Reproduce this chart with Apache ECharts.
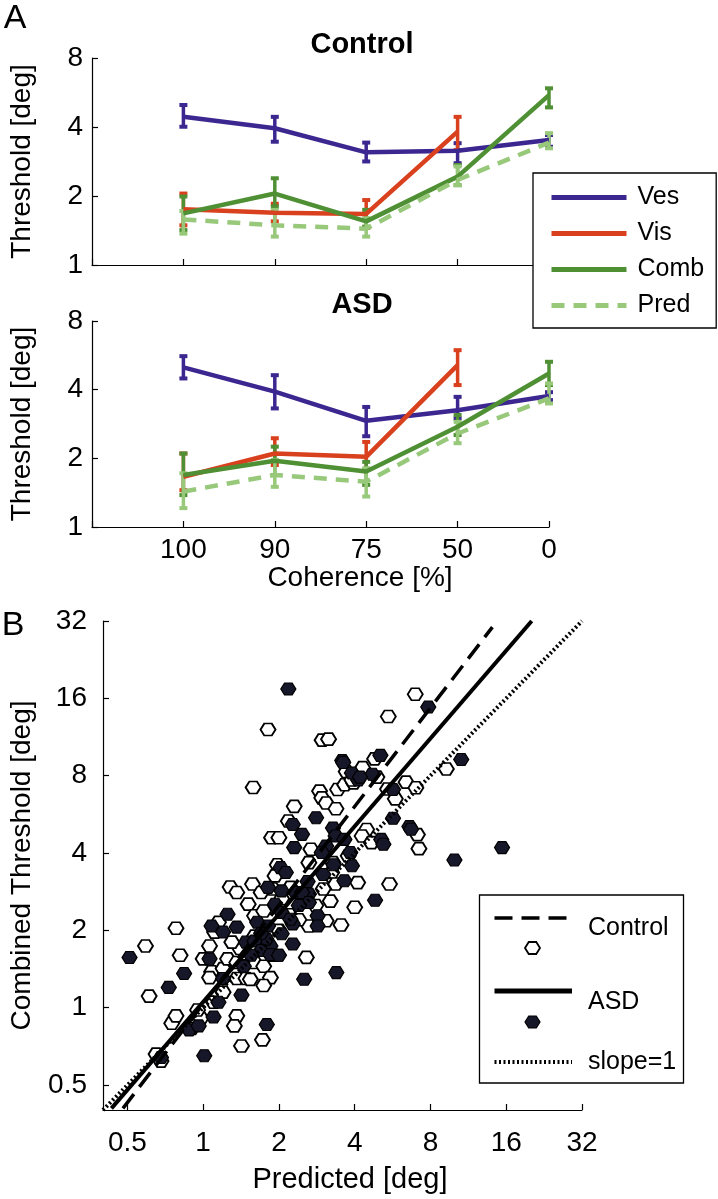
<!DOCTYPE html>
<html>
<head>
<meta charset="utf-8">
<script src="https://cdn.jsdelivr.net/npm/echarts@6/dist/echarts.min.js"></script>
<style>
html,body{margin:0;padding:0;background:#fff;}
#chart{width:718px;height:1199px;}
</style>
</head>
<body>
<div id="chart"></div>
<script>
// ---------- Panel A data ----------
const coherenceLabels = ['100', '90', '75', '50', '0'];
const seriesNames = ['Ves', 'Vis', 'Comb', 'Pred'];

// Control
const ctrlVes = [4.43, 3.95, 3.10, 3.15, 3.51];
const ctrlVesLo = [4.01, 3.45, 2.83, 2.78, 3.28];
const ctrlVesHi = [4.99, 4.43, 3.42, 3.40, 3.69];
const ctrlVis = [1.75, 1.69, 1.67, 3.82];
const ctrlVisLo = [1.49, 1.55, 1.45, 3.17];
const ctrlVisHi = [2.05, 1.85, 1.92, 4.43];
const ctrlComb = [1.68, 2.05, 1.55, 2.43, 5.51];
const ctrlCombLo = [1.42, 1.80, 1.47, 2.23, 4.87];
const ctrlCombHi = [1.99, 2.39, 1.74, 2.73, 5.90];
const ctrlPred = [1.58, 1.49, 1.44, 2.35, 3.42];
const ctrlPredLo = [1.37, 1.33, 1.33, 2.23, 3.23];
const ctrlPredHi = [1.72, 1.74, 1.60, 2.69, 3.76];

// ASD
const asdVes = [5.01, 3.92, 2.92, 3.25, 3.75];
const asdVesLo = [4.48, 3.31, 2.50, 2.99, 3.60];
const asdVesHi = [5.61, 4.63, 3.36, 3.72, 3.90];
const asdVis = [1.66, 2.10, 2.03, 5.12];
const asdVisLo = [1.45, 1.87, 1.78, 4.19];
const asdVisHi = [2.10, 2.45, 2.36, 5.96];
const asdComb = [1.69, 1.95, 1.75, 2.75, 4.71];
const asdCombLo = [1.38, 1.69, 1.53, 2.53, 4.19];
const asdCombHi = [2.10, 2.25, 1.93, 3.10, 5.30];
const asdPred = [1.43, 1.69, 1.58, 2.57, 3.66];
const asdPredLo = [1.21, 1.50, 1.36, 2.33, 3.48];
const asdPredHi = [1.72, 1.97, 1.81, 2.89, 4.26];

const thresholdTicks = [1, 2, 4, 8];

// ---------- Panel B data ----------
const scatterTicks = [0.5, 1, 2, 4, 8, 16, 32];
const controlPoints = [
  [1.81,12.1],[6.96,16.6],[5.44,13.6],[2.97,11.0],[3.15,11.1],[4.8,9.3],[9.25,8.5],[1.58,7.2],
  [6.4,7.55],[7.0,7.18],[5.4,7.1],[5.8,6.5],[2.9,6.97],[2.96,6.56],[3.08,6.26],[3.37,5.95],
  [2.3,6.08],[3.42,7.07],[3.65,7.38],[3.96,7.5],[2.18,5.33],[1.87,4.59],[2.0,4.59],[7.1,4.72],
  [7.2,4.16],[4.46,4.94],[4.28,4.66],[4.66,4.39],[3.77,3.9],[3.28,3.67],[3.24,3.36],[3.36,3.03],
  [4.11,3.07],[2.68,4.14],[2.63,3.67],[1.97,3.6],[1.93,3.26],[5.5,3.03],[1.28,2.95],[1.57,3.03],
  [1.7,2.81],[4.0,2.46],[3.53,2.1],[3.08,2.18],[2.63,2.08],[2.57,1.57],[1.72,0.75],[1.42,0.71],
  [1.36,0.93],[0.75,0.87],[0.78,0.93],[0.9,0.83],[0.98,0.91],[0.68,0.62],[0.65,0.66],[0.61,1.11],
  [0.59,1.74],[0.81,1.6],[0.78,2.04],[1.0,1.55],[1.06,1.74],[1.11,1.97],[1.15,2.15],[1.08,1.38],
  [1.06,1.31],[1.2,1.42],[1.25,1.55],[1.36,1.3],[1.36,1.5],[1.48,1.3],[1.48,1.62],[1.6,1.5],
  [1.74,1.45],[1.85,1.31],[1.74,1.22],[1.54,1.29],[1.36,2.81],[1.51,2.53],[1.6,2.28],[1.74,2.38],
  [1.89,2.9],[2.05,2.66],[2.22,2.94],[2.47,2.73],[3.7,8.3],[4.3,8.6],[4.9,7.9],[3.9,7.7],
  [1.33,0.85],[1.1,1.05],[0.95,0.98],[1.4,1.7],[1.9,1.6],[2.2,2.3],[2.4,2.2],[2.8,2.5],
  [3.0,2.9],[3.2,2.6],[1.3,1.8],[1.2,1.15],[1.6,1.9],[2.0,2.0]
];
const asdPoints = [
  [2.18,17.4],[7.84,14.8],[3.57,9.16],[5.06,9.6],[10.6,9.25],[4.13,7.7],[4.7,8.1],[5.68,7.07],
  [2.81,5.49],[5.68,5.46],[2.27,5.17],[2.47,4.73],[2.3,4.2],[6.6,5.07],[6.7,4.95],[15.4,4.2],
  [9.96,3.76],[5.1,4.52],[5.2,4.33],[3.28,5.01],[3.36,4.66],[3.08,4.26],[2.96,4.02],[3.64,4.52],
  [3.84,4.02],[3.9,3.57],[3.64,3.12],[2.03,3.51],[2.13,3.36],[1.81,2.94],[2.05,2.85],[2.33,2.81],
  [2.63,2.77],[4.82,2.62],[2.85,2.28],[2.85,2.08],[2.27,2.12],[2.27,1.77],[2.05,1.94],[1.99,1.6],
  [1.85,1.74],[1.78,1.85],[2.52,1.29],[3.38,1.37],[1.79,0.86],[1.01,0.65],[1.1,0.92],[1.42,1.12],
  [0.88,0.82],[0.96,0.85],[0.68,0.64],[0.73,1.2],[0.84,1.36],[0.51,1.57],[1.08,2.08],[1.06,1.55],
  [1.2,1.97],[1.25,2.31],[1.36,2.06],[1.48,1.8],[1.6,1.82],[1.7,1.67],[1.85,1.61],[2.0,1.6],
  [1.64,2.15],[1.81,2.08],[1.93,2.53],[2.05,2.35],[2.22,2.21],[2.47,2.81],[2.63,2.57],[3.9,8.2],
  [4.2,7.9],[3.6,9.0],[1.55,1.6],[1.45,1.45],[1.7,1.95],[2.4,2.5],[3.0,3.3],[3.3,3.6],
  [2.6,3.1],[1.2,1.3],[1.15,1.05]
];
const controlFit = [[0.48, 0.406], [14.1, 30.3]];
const asdFit = [[0.432, 0.406], [20.2, 32]];
const unityLine = [[0.4, 0.4], [32, 32]];
const scatterMin = 0.4;
const scatterMax = 32;

// ---------- helpers ----------
const L2 = Math.log2;
const COLORS = {Ves: '#3c2690', Vis: '#d9401e', Comb: '#4f9034', Pred: '#98c97b'};
const FONT = '"Liberation Sans", Arial, Helvetica, sans-serif';
const HEX = 'path://M0,5L2.5,0L7.5,0L10,5L7.5,10L2.5,10Z';

function lineData(vals) { return vals.map((v, i) => [i + 1, L2(v)]); }
function errData(lo, hi) { return lo.map((l, i) => [i + 1, L2(l), L2(hi[i])]); }
function fmtPow(v) { const p = Math.pow(2, v); return String(Math.round(p * 1000) / 1000); }

function errRender(color) {
  return function (params, api) {
    const x = api.value(0);
    const p1 = api.coord([x, api.value(1)]);
    const p2 = api.coord([x, api.value(2)]);
    const w = 4;
    const st = {stroke: color, lineWidth: 3.5};
    return {type: 'group', children: [
      {type: 'line', shape: {x1: p1[0], y1: p1[1], x2: p2[0], y2: p2[1]}, style: st},
      {type: 'line', shape: {x1: p1[0] - w, y1: p1[1], x2: p1[0] + w, y2: p1[1]}, style: {stroke: color, lineWidth: 4}},
      {type: 'line', shape: {x1: p2[0] - w, y1: p2[1], x2: p2[0] + w, y2: p2[1]}, style: {stroke: color, lineWidth: 4}}
    ]};
  };
}

const panelData = [
  {Ves: [ctrlVes, ctrlVesLo, ctrlVesHi], Vis: [ctrlVis, ctrlVisLo, ctrlVisHi], Comb: [ctrlComb, ctrlCombLo, ctrlCombHi], Pred: [ctrlPred, ctrlPredLo, ctrlPredHi]},
  {Ves: [asdVes, asdVesLo, asdVesHi], Vis: [asdVis, asdVisLo, asdVisHi], Comb: [asdComb, asdCombLo, asdCombHi], Pred: [asdPred, asdPredLo, asdPredHi]}
];

const series = [];
panelData.forEach((pd, gi) => {
  seriesNames.forEach(name => {
    const [mid, lo, hi] = pd[name];
    const dashed = name === 'Pred';
    series.push({
      name: name, type: 'line', xAxisIndex: gi, yAxisIndex: gi,
      data: lineData(mid), symbol: 'none', showSymbol: false, silent: true, animation: false,
      lineStyle: {color: COLORS[name], width: 4.5, type: dashed ? [13, 9] : 'solid', cap: 'butt'},
      itemStyle: {color: COLORS[name]}
    });
    series.push({
      name: name + ' error', type: 'custom', xAxisIndex: gi, yAxisIndex: gi,
      data: errData(lo, hi), renderItem: errRender(COLORS[name]), silent: true, animation: false,
      encode: {x: 0, y: [1, 2]}
    });
  });
});

// Panel B scatter + fits
series.push({
  name: 'Control points', type: 'scatter', xAxisIndex: 2, yAxisIndex: 2,
  data: controlPoints.map(p => [L2(p[0]), L2(p[1])]), symbol: HEX, symbolSize: [15, 12],
  itemStyle: {color: '#ffffff', borderColor: '#000', borderWidth: 1.8, opacity: 1}, silent: true, animation: false, z: 2
});
series.push({
  name: 'ASD points', type: 'scatter', xAxisIndex: 2, yAxisIndex: 2,
  data: asdPoints.map(p => [L2(p[0]), L2(p[1])]), symbol: HEX, symbolSize: [15, 12],
  itemStyle: {color: '#17172a', borderColor: '#000', borderWidth: 1.2, opacity: 1}, silent: true, animation: false, z: 3
});
const fitStyles = [
  ['Control fit', controlFit, {color: '#000', width: 3.5, type: [18, 9]}],
  ['ASD fit', asdFit, {color: '#000', width: 4, type: 'solid'}],
  ['slope=1', unityLine, {color: '#000', width: 4, type: [2, 2.5]}]
];
fitStyles.forEach(([n, d, ls]) => {
  series.push({
    name: n, type: 'line', xAxisIndex: 2, yAxisIndex: 2, data: d.map(p => [L2(p[0]), L2(p[1])]),
    symbol: 'none', lineStyle: ls, silent: true, animation: false, z: 5, clip: true
  });
});

const axisLineStyle = {lineStyle: {color: '#000', width: 1.2}};
const tickStyle = {show: true, inside: true, length: 6, lineStyle: {color: '#000', width: 1.2}};

function panelAY(gi) {
  return {
    type: 'value', gridIndex: gi, min: 0, max: 3, interval: 1,
    axisLine: Object.assign({show: true}, axisLineStyle), axisTick: tickStyle, splitLine: {show: false},
    axisLabel: {formatter: v => fmtPow(v), color: '#000', fontSize: 28, fontFamily: FONT, margin: 9},
    name: 'Threshold [deg]', nameLocation: 'middle', nameGap: 56,
    nameTextStyle: {color: '#000', fontSize: 28, fontFamily: FONT}
  };
}
function panelAX(gi, showLabels) {
  return {
    type: 'value', gridIndex: gi, min: 0, max: 5, interval: 1,
    axisLine: Object.assign({show: true, onZero: false}, axisLineStyle), axisTick: tickStyle, splitLine: {show: false},
    axisLabel: {show: showLabels, formatter: v => (v >= 1 ? coherenceLabels[v - 1] : ''), color: '#000', fontSize: 28, fontFamily: FONT, margin: 9}
  };
}
const logTickVals = scatterTicks.map(L2);

const option = {
  backgroundColor: '#fff',
  animation: false,
  grid: [
    {left: 91, top: 58, width: 458, height: 207},
    {left: 91, top: 321, width: 458, height: 206},
    {left: 92, top: 621, width: 490, height: 489}
  ],
  xAxis: [
    panelAX(0, false),
    panelAX(1, true),
    {
      type: 'value', gridIndex: 2, min: L2(scatterMin), max: L2(scatterMax),
      axisLine: Object.assign({show: true, onZero: false}, axisLineStyle),
      axisTick: Object.assign({customValues: logTickVals}, tickStyle), splitLine: {show: false},
      axisLabel: {customValues: logTickVals, formatter: v => fmtPow(v), color: '#000', fontSize: 28, fontFamily: FONT, margin: 19}
    }
  ],
  yAxis: [
    panelAY(0),
    panelAY(1),
    {
      type: 'value', gridIndex: 2, min: L2(scatterMin), max: L2(scatterMax),
      axisLine: Object.assign({show: true, onZero: false}, axisLineStyle),
      axisTick: Object.assign({customValues: logTickVals}, tickStyle), splitLine: {show: false},
      axisLabel: {customValues: logTickVals, formatter: v => fmtPow(v), color: '#000', fontSize: 28, fontFamily: FONT, margin: 16},
      name: 'Combined Threshold [deg]', nameLocation: 'middle', nameGap: 67,
      nameTextStyle: {color: '#000', fontSize: 28, fontFamily: FONT}
    }
  ],
  legend: {
    data: seriesNames, orient: 'vertical', left: 533, top: 173,
    itemWidth: 75, itemHeight: 14, itemGap: 11,
    padding: [12, 12, 10, 16],
    backgroundColor: '#fff', borderColor: '#000', borderWidth: 1.3,
    itemStyle: {opacity: 0},
    lineStyle: {width: 5, opacity: 1},
    textStyle: {color: '#000', fontSize: 25, fontFamily: FONT, padding: [0, 0, 0, 6]},
    selectedMode: false, z: 10
  },
  series: series,
  graphic: [
    {type: 'text', x: 15, y: 19, style: {text: 'A', font: '34px ' + FONT, fill: '#000', align: 'center', verticalAlign: 'middle'}},
    {type: 'text', x: 13, y: 626, style: {text: 'B', font: '34px ' + FONT, fill: '#000', align: 'center', verticalAlign: 'middle'}},
    {type: 'text', x: 362, y: 45, style: {text: 'Control', font: 'bold 29px ' + FONT, fill: '#000', align: 'center', verticalAlign: 'middle'}},
    {type: 'text', x: 362, y: 305, style: {text: 'ASD', font: 'bold 29px ' + FONT, fill: '#000', align: 'center', verticalAlign: 'middle'}},
    {type: 'text', x: 360, y: 578, style: {text: 'Coherence [%]', font: '28px ' + FONT, fill: '#000', align: 'center', verticalAlign: 'middle'}},
    {type: 'text', x: 350, y: 1180, style: {text: 'Predicted [deg]', font: '29px ' + FONT, fill: '#000', align: 'center', verticalAlign: 'middle'}},
    // Panel B legend
    {type: 'rect', shape: {x: 479.5, y: 895, width: 204, height: 188}, style: {fill: '#fff', stroke: '#000', lineWidth: 1.3}, z: 20},
    {type: 'line', shape: {x1: 494.5, y1: 918, x2: 568, y2: 918}, style: {stroke: '#000', lineWidth: 3.5, lineDash: [18, 9]}, z: 21},
    {type: 'polygon', shape: {points: [[525, 948], [528.75, 942], [536.25, 942], [540, 948], [536.25, 954], [528.75, 954]]}, style: {fill: '#fff', stroke: '#000', lineWidth: 1.8}, z: 21},
    {type: 'text', x: 588, y: 928, style: {text: 'Control', font: '25px ' + FONT, fill: '#000', align: 'left', verticalAlign: 'middle'}, z: 21},
    {type: 'line', shape: {x1: 494.5, y1: 991, x2: 572, y2: 991}, style: {stroke: '#000', lineWidth: 5}, z: 21},
    {type: 'polygon', shape: {points: [[525, 1022], [528.75, 1016], [536.25, 1016], [540, 1022], [536.25, 1028], [528.75, 1028]]}, style: {fill: '#17172a', stroke: '#000', lineWidth: 1.2}, z: 21},
    {type: 'text', x: 588, y: 1002, style: {text: 'ASD', font: '25px ' + FONT, fill: '#000', align: 'left', verticalAlign: 'middle'}, z: 21},
    {type: 'line', shape: {x1: 494.5, y1: 1062, x2: 572, y2: 1062}, style: {stroke: '#000', lineWidth: 4, lineDash: [2, 2.5]}, z: 21},
    {type: 'text', x: 588, y: 1062, style: {text: 'slope=1', font: '25px ' + FONT, fill: '#000', align: 'left', verticalAlign: 'middle'}, z: 21}
  ]
};

const chart = echarts.init(document.getElementById('chart'), null, {renderer: 'canvas'});
chart.setOption(option);
</script>
</body>
</html>
